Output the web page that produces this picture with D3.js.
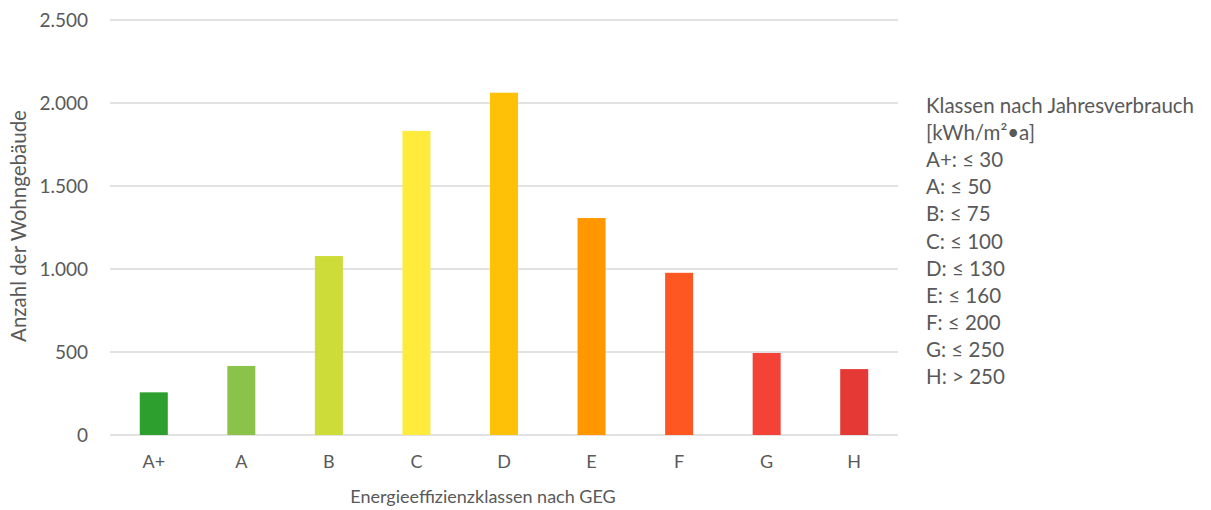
<!DOCTYPE html>
<html><head><meta charset="utf-8">
<script src="https://cdn.jsdelivr.net/npm/d3@7"></script>
<style>body{margin:0;background:#fff}text{font-family:Lato,"Open Sans",sans-serif;fill:#595959}</style>
</head><body><svg id="c" width="1211" height="510"></svg>
<script>
const categories = ["A+","A","B","C","D","E","F","G","H"];
const values = [257, 416, 1078, 1832, 2062, 1307, 977, 494, 397];
const colors = ["#2c9f2e","#8bc34a","#cddc39","#ffeb3b","#ffc107","#ff9800","#ff5722","#f44336","#e53935"];
const yTicks = [0, 500, 1000, 1500, 2000, 2500];
const legendLines = ["Klassen nach Jahresverbrauch","[kWh/m²•a]","A+: ≤ 30","A: ≤ 50","B: ≤ 75","C: ≤ 100","D: ≤ 130","E: ≤ 160","F: ≤ 200","G: ≤ 250","H: > 250"];
const xTitle = "Energieeffizienzklassen nach GEG";
const yTitle = "Anzahl der Wohngebäude";

const svg = d3.select("#c");
const x = d3.scaleBand().domain(categories).range([110, 898]).paddingInner(0.68).paddingOuter(0.34);
const y = d3.scaleLinear().domain([0, 2500]).range([435, 20]);
const fmt = v => d3.format(",")(v).replace(/,/g, ".");

svg.append("g").selectAll("line").data(yTicks).join("line")
  .attr("x1", 110).attr("x2", 898).attr("y1", d => y(d)).attr("y2", d => y(d))
  .attr("stroke", "#d9d9d9").attr("stroke-width", 1.3);

svg.append("g").selectAll("rect").data(values).join("rect")
  .attr("x", (d, i) => x(categories[i])).attr("width", x.bandwidth())
  .attr("y", d => y(d)).attr("height", d => y(0) - y(d))
  .attr("fill", (d, i) => colors[i]);

const ya = svg.append("g").attr("transform", "translate(110,0)")
  .call(d3.axisLeft(y).tickValues(yTicks).tickFormat(fmt).tickSize(0).tickPadding(22));
ya.select(".domain").remove();
ya.selectAll("text").attr("font-size", 19).attr("font-family", null).attr("fill", null);

const xa = svg.append("g").attr("transform", "translate(0,435)")
  .call(d3.axisBottom(x).tickSize(0).tickPadding(20));
xa.select(".domain").remove();
xa.selectAll("text").attr("font-size", 18).attr("font-family", null).attr("fill", null);

svg.append("text").attr("x", 483).attr("y", 503).attr("text-anchor", "middle").attr("font-size", 18).text(xTitle);
svg.append("text").attr("transform", "translate(26,226) rotate(-90)").attr("text-anchor", "middle").attr("font-size", 20.5).text(yTitle);

svg.append("g").selectAll("text").data(legendLines).join("text")
  .attr("x", 926).attr("y", (d, i) => 113 + i * 27.1).attr("font-size", 20.5).text(d => d);
</script></body></html>
